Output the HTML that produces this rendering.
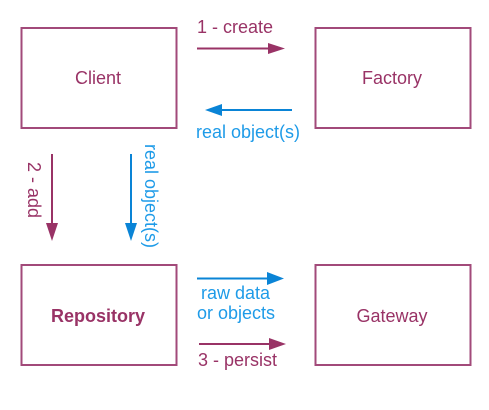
<!DOCTYPE html>
<html><head><meta charset="utf-8"><style>
html,body{margin:0;padding:0;background:#fff;}
svg{display:block;}
text{font-family:"Liberation Sans",Arial,sans-serif;font-size:18px;}
</style></head><body>
<svg width="489" height="410" viewBox="0 0 489 410" xmlns="http://www.w3.org/2000/svg">
<g fill="none" stroke="#a24a7a" stroke-width="2">
<rect x="21.5" y="28" width="155" height="100"/>
<rect x="315.5" y="28" width="155" height="100"/>
<rect x="21.5" y="265" width="155" height="100"/>
<rect x="315.5" y="265" width="155" height="100"/>
</g>
<g fill="#993366" text-anchor="middle">
<text x="98" y="84">Client</text>
<text x="392" y="84">Factory</text>
<text x="98" y="322" font-weight="bold">Repository</text>
<text x="392" y="322">Gateway</text>
</g>
<line x1="197" y1="48.5" x2="270" y2="48.5" stroke="#993366" stroke-width="2"/>
<path d="M268,43 L285,48.5 L268,54 Z" fill="#993366"/>
<text x="197" y="33" fill="#993366">1 - create</text>
<line x1="292" y1="110" x2="220" y2="110" stroke="#0a84d6" stroke-width="2"/>
<path d="M222,104 L205,110 L222,116 Z" fill="#0a84d6"/>
<text x="196" y="138" fill="#1e9be8">real object(s)</text>
<line x1="52" y1="154" x2="52" y2="225" stroke="#993366" stroke-width="2"/>
<path d="M46,223 L52,241 L58,223 Z" fill="#993366"/>
<text transform="translate(28,162) rotate(90)" fill="#993366">2 - add</text>
<line x1="131" y1="154" x2="131" y2="225" stroke="#0a84d6" stroke-width="2"/>
<path d="M125,223 L131,241 L137,223 Z" fill="#0a84d6"/>
<text transform="translate(145,144) rotate(90)" fill="#1e9be8">real object(s)</text>
<line x1="197" y1="278.5" x2="270" y2="278.5" stroke="#0a84d6" stroke-width="2"/>
<path d="M267,272 L284,278.5 L267,285 Z" fill="#0a84d6"/>
<text x="201" y="299" fill="#1e9be8">raw data</text>
<text x="197" y="319" fill="#1e9be8">or objects</text>
<line x1="199" y1="344" x2="272" y2="344" stroke="#993366" stroke-width="2"/>
<path d="M269,338 L286,344 L269,350 Z" fill="#993366"/>
<text x="198" y="366" fill="#993366">3 - persist</text>
</svg>
</body></html>
